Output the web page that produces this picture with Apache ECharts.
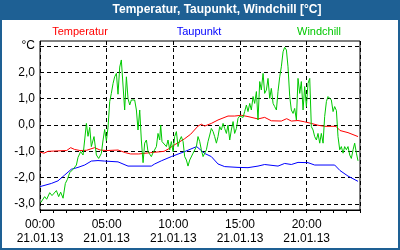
<!DOCTYPE html>
<html>
<head>
<meta charset="utf-8">
<script src="https://cdn.jsdelivr.net/npm/echarts@6/dist/echarts.min.js"></script>
<style>
  html, body { margin: 0; padding: 0; }
  #chart { width: 400px; height: 250px; }
</style>
</head>
<body>
<div id="chart"></div>
<script>
// Werte vom 21.01.13, Zeit in Stunden
const datum = "21.01.13";
const stundenTicks = [0, 5, 10, 15, 20];
const yTicks = [-3, -2, -1, 0, 1, 2, 3];

const temperatur = [
  [0, -1.03], [0.3, -1.07], [0.6, -1.0], [1, -0.99], [1.5, -0.98], [2, -0.97], [2.3, -0.86], [2.6, -0.93],
  [3, -0.97], [3.5, -0.96], [4.1, -0.86], [4.5, -0.95], [5, -0.97], [5.85, -0.95], [6.4, -1.05], [6.8, -1.1],
  [7.4, -1.1], [8.3, -1.05], [9.3, -1.0], [9.6, -0.92], [10, -0.78], [10.5, -0.63], [10.85, -0.52], [11.3, -0.35],
  [11.85, -0.04], [12.1, 0.03], [12.35, -0.04], [12.85, 0.06], [13.35, 0.19], [14.1, 0.34], [14.6, 0.34], [15.1, 0.37],
  [15.6, 0.32], [16.35, 0.23], [16.85, 0.29], [17.35, 0.16], [18.1, 0.15], [18.5, 0.24], [18.85, 0.15], [19.35, 0.17],
  [19.85, 0.12], [20.35, 0.06], [20.85, -0.01], [21.35, -0.05], [22.2, -0.05], [22.5, -0.21], [23.1, -0.29], [23.85, -0.44]
];

const taupunkt = [
  [0, -2.34], [0.85, -2.22], [1.35, -2.12], [1.85, -1.9], [2.35, -1.68], [2.85, -1.61], [3.35, -1.52], [3.85, -1.37],
  [4.35, -1.35], [4.85, -1.37], [5.85, -1.4], [6.6, -1.56], [7.35, -1.56], [8.35, -1.56], [8.6, -1.48], [9.1, -1.36],
  [9.85, -1.2], [10.85, -1.01], [11.75, -0.82], [12.35, -1.08], [12.85, -1.2], [13.35, -1.48], [13.85, -1.58], [14.85, -1.61],
  [15.6, -1.62], [16.35, -1.56], [16.85, -1.5], [17.85, -1.56], [18.35, -1.46], [18.85, -1.5], [19.35, -1.42], [20.1, -1.43],
  [20.6, -1.52], [22.1, -1.52], [22.5, -1.73], [23.1, -1.94], [23.85, -2.14]
];

const windchill = [
  [0.05, -2.95], [0.12, -2.9], [0.35, -2.72], [0.5, -2.82], [0.73, -2.57], [0.9, -2.68], [1.05, -2.62], [1.23, -2.49],
  [1.4, -2.72], [1.55, -2.55], [1.73, -2.78], [1.9, -2.22], [2.05, -2.07], [2.23, -1.81], [2.48, -1.68], [2.73, -1.52],
  [2.85, -1.23], [3.05, -1.01], [3.23, -1.14], [3.35, -0.57], [3.48, 0.06], [3.6, -0.43], [3.73, -0.09], [3.85, -0.82],
  [4.05, -0.44], [4.23, -1.14], [4.4, -1.27], [4.6, -1.08], [4.73, -0.57], [4.85, -0.17], [4.98, -0.6], [5.1, -0.1],
  [5.23, 0.89], [5.35, 1.2], [5.48, 1.58], [5.6, 1.83], [5.73, 1.96], [5.85, 1.17], [5.98, 2.2], [6.1, 2.47],
  [6.23, 2.4], [6.35, 0.57], [6.48, 1.83], [6.6, 1.01], [6.73, 0.76], [6.85, 0.95], [6.98, 0.89], [7.1, 0.95],
  [7.23, 0.57], [7.35, -0.19], [7.48, 0.57], [7.6, -0.57], [7.73, -1.43], [7.85, -0.69], [7.98, -0.57], [8.1, -1.01],
  [8.35, -1.2], [8.48, -1.05], [8.73, -0.82], [8.85, -0.32], [8.98, -0.57], [9.05, 0], [9.15, -0.63], [9.3, -0.57],
  [9.48, -0.82], [9.6, -0.57], [9.73, -0.94], [9.85, -0.63], [9.98, -1.01], [10.1, -0.44], [10.23, -0.25], [10.35, -0.82],
  [10.48, -0.57], [10.6, -0.44], [10.73, -0.63], [10.85, -1.2], [10.98, -1.33], [11.1, -1.56], [11.23, -1.33], [11.48, -1.07],
  [11.73, -0.82], [11.85, -0.44], [11.98, -0.63], [12.1, -0.94], [12.23, -1.2], [12.35, -1.27], [12.48, -0.94], [12.6, -0.63],
  [12.73, -0.38], [12.85, -0.13], [12.98, -0.25], [13.1, -0.44], [13.23, -0.69], [13.35, -0.44], [13.48, -0.06], [13.6, -0.19],
  [13.73, 0.06], [13.85, -0.13], [13.98, -0.32], [14.1, 0], [14.23, -0.57], [14.35, -0.19], [14.48, 0.13], [14.6, -0.32],
  [14.73, -0.13], [14.85, 0.25], [14.98, 0.34], [15.1, 0.32], [15.23, 0.29], [15.35, 0.51], [15.48, 0.76], [15.6, 0.51],
  [15.73, 0.82], [15.85, 0.57], [15.98, 1.08], [16.1, 0.82], [16.23, 1.27], [16.35, 0.19], [16.48, 1.65], [16.6, 1.33],
  [16.73, 1.96], [16.85, 1.2], [16.98, 1.33], [17.1, 1.77], [17.23, 1.01], [17.35, 1.39], [17.48, 0.82], [17.6, 0.7],
  [17.73, 0.57], [17.85, 1.27], [17.98, 1.83], [18.1, 2.21], [18.23, 2.78], [18.35, 2.95], [18.48, 2.85], [18.6, 2.21],
  [18.73, 1.08], [18.85, 0.57], [18.98, 0.44], [19.1, 0.63], [19.23, 0.19], [19.35, 1.77], [19.48, 1.2], [19.6, 1.65],
  [19.73, 0.57], [19.85, 1.46], [19.98, 0.7], [20.1, 1.58], [20.23, 1.77], [20.35, -0.06], [20.48, -0.19], [20.6, -0.44],
  [20.73, -0.57], [20.85, -0.32], [20.98, -0.69], [21.1, -0.32], [21.23, -0.69], [21.35, 0.32], [21.48, 0.89], [21.6, 1.08],
  [21.73, 1.14], [21.85, 0.95], [21.98, 0.51], [22.1, 0.7], [22.23, 0.55], [22.35, -0.44], [22.48, -0.94], [22.6, -0.82],
  [22.73, -1.07], [22.85, -0.82], [22.98, -0.94], [23.1, -0.82], [23.23, -1.14], [23.35, -1.27], [23.48, -0.94], [23.6, -0.69],
  [23.73, -1.07], [23.85, -1.36]
];

const schrift = "'Liberation Sans', Arial, sans-serif";
const gestrichelt = { color: "#000", width: 1, type: [4, 3] };

function zeitLabel(h) {
  const hh = String(Math.round(h)).padStart(2, "0");
  return hh + ":00\n" + datum;
}

const chart = echarts.init(document.getElementById("chart"));

const option = {
  backgroundColor: "#1e6094",
  animation: false,
  graphic: [
    { type: "rect", z: -10, silent: true, shape: { x: 2, y: 20, width: 396, height: 228 }, style: { fill: "#fff" } },
    { type: "text", x: 217, y: 10, style: { text: "Temperatur, Taupunkt, Windchill [°C]", fill: "#fff", font: "bold 12px " + schrift, textAlign: "center", textVerticalAlign: "middle" } },
    { type: "text", x: 80, y: 32, style: { text: "Temperatur", fill: "#ff0000", font: "11px " + schrift, textAlign: "center", textVerticalAlign: "middle" } },
    { type: "text", x: 199, y: 32, style: { text: "Taupunkt", fill: "#0000ff", font: "11px " + schrift, textAlign: "center", textVerticalAlign: "middle" } },
    { type: "text", x: 319, y: 32, style: { text: "Windchill", fill: "#00c800", font: "11px " + schrift, textAlign: "center", textVerticalAlign: "middle" } }
  ],
  grid: [
    // Werte-Bereich -3..3
    { left: 40, top: 46, width: 320, height: 158, containLabel: false },
    // Rahmen und Zeitachse
    { left: 40, top: 41, width: 320, height: 169, show: true, borderColor: "#000", borderWidth: 1, backgroundColor: "transparent" }
  ],
  xAxis: [
    { gridIndex: 0, type: "value", min: 0, max: 24, show: false },
    {
      gridIndex: 1, type: "value", min: 0, max: 24, interval: 5,
      axisLine: { show: true, lineStyle: { color: "#000", width: 1 } },
      axisTick: { show: true, length: 3, lineStyle: { color: "#000" } },
      minorTick: { show: true, splitNumber: 5, length: 3, lineStyle: { color: "#000" } },
      splitLine: { show: true, lineStyle: gestrichelt },
      axisLabel: {
        showMaxLabel: false, color: "#000", fontFamily: schrift, fontSize: 12, lineHeight: 14, margin: 8,
        formatter: v => stundenTicks.includes(v) ? zeitLabel(v) : ""
      }
    }
  ],
  yAxis: [
    {
      gridIndex: 0, type: "value", min: yTicks[0], max: yTicks[yTicks.length - 1], interval: 1,
      axisLine: { show: false }, axisTick: { show: false },
      splitLine: { show: true, lineStyle: gestrichelt },
      axisLabel: {
        color: "#000", fontFamily: schrift, fontSize: 12, margin: 5,
        formatter: v => v === 3 ? "°C" : v.toFixed(1).replace(".", ",")
      }
    },
    { gridIndex: 1, type: "value", min: 0, max: 1, show: false }
  ],
  series: [
    { name: "Temperatur", type: "line", data: temperatur, showSymbol: false, lineStyle: { color: "#ff0000", width: 1 } },
    { name: "Taupunkt", type: "line", data: taupunkt, showSymbol: false, lineStyle: { color: "#0000ff", width: 1 } },
    { name: "Windchill", type: "line", data: windchill, showSymbol: false, lineStyle: { color: "#00c800", width: 1 } }
  ]
};

chart.setOption(option);
</script>
</body>
</html>
